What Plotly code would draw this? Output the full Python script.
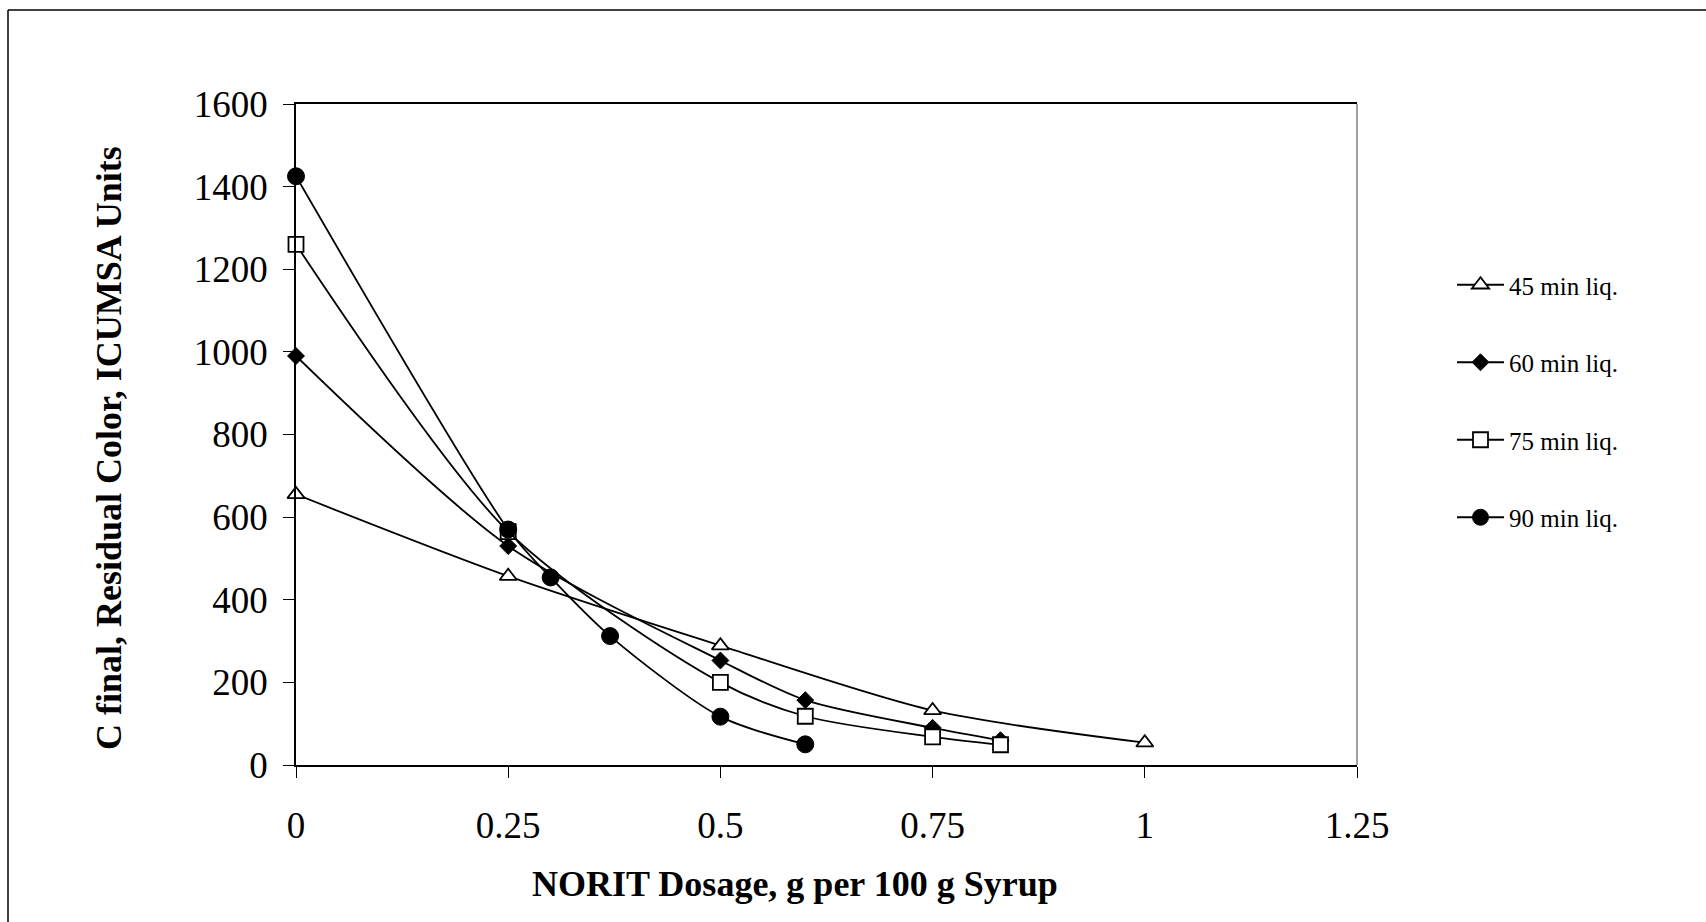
import plotly.graph_objects as go

# NORIT dosage (g per 100 g syrup) and residual colour (ICUMSA units) per liquor time
dose_45 = [0, 0.25, 0.5, 0.75, 1.0]
color_45 = [655, 457, 289, 132, 54]

dose_60 = [0, 0.25, 0.5, 0.6, 0.75, 0.83]
color_60 = [990, 530, 253, 157, 90, 60]

dose_75 = [0, 0.25, 0.5, 0.6, 0.75, 0.83]
color_75 = [1260, 565, 200, 118, 68, 49]

dose_90 = [0, 0.25, 0.3, 0.37, 0.5, 0.6]
color_90 = [1425, 570, 454, 312, 117, 50]

x_ticks = [0, 0.25, 0.5, 0.75, 1, 1.25]
x_tick_text = ["0", "0.25", "0.5", "0.75", "1", "1.25"]
y_ticks = [0, 200, 400, 600, 800, 1000, 1200, 1400, 1600]

series = [
    ("45 min liq.", dose_45, color_45, dict(symbol="triangle-up", size=15, color="white",
                                           line=dict(color="black", width=1.8))),
    ("60 min liq.", dose_60, color_60, dict(symbol="diamond", size=13, color="black",
                                           line=dict(color="black", width=1))),
    ("75 min liq.", dose_75, color_75, dict(symbol="square", size=15, color="white",
                                           line=dict(color="black", width=1.8))),
    ("90 min liq.", dose_90, color_90, dict(symbol="circle", size=17, color="black",
                                           line=dict(color="black", width=1))),
]

W, H = 1706, 922
L, R, T, B = 296, 349, 104, 157
pw, ph = W - L - R, H - T - B

FONT = "Liberation Serif, Times New Roman, serif"

fig = go.Figure()
for name, xs, ys, mk in series:
    fig.add_trace(go.Scatter(
        x=xs, y=ys, name=name, mode="lines+markers",
        line=dict(color="black", width=1.8, shape="spline", smoothing=0.8),
        marker=mk, legendgroup=name, cliponaxis=False,
    ))


def px_x(p):
    return (p - L) / pw


def px_y(p):
    return (H - B - p) / ph


shapes = [
    # outer chart frame (top and left edges)
    dict(type="line", xref="paper", yref="paper", x0=px_x(8), x1=px_x(W + 5),
         y0=px_y(10), y1=px_y(10), line=dict(color="black", width=1.5)),
    dict(type="line", xref="paper", yref="paper", x0=px_x(8), x1=px_x(8),
         y0=px_y(10), y1=px_y(H + 5), line=dict(color="black", width=1.5)),
    # right edge of plot area
    dict(type="line", xref="paper", yref="paper", x0=1, x1=1, y0=0, y1=1,
         line=dict(color="#808080", width=1.5)),
]

annotations = [
    dict(text="<b>NORIT Dosage, g per 100 g Syrup</b>", xref="paper", yref="paper",
         x=px_x(795), y=px_y(884), xanchor="center", yanchor="middle", showarrow=False,
         font=dict(family=FONT, size=36, color="black")),
    dict(text="<b>C final, Residual Color, ICUMSA Units</b>", xref="paper", yref="paper",
         x=px_x(109), y=px_y(448), xanchor="center", yanchor="middle", showarrow=False,
         textangle=-90, font=dict(family=FONT, size=36, color="black")),
]

fig.update_layout(
    width=W, height=H,
    margin=dict(l=L, r=R, t=T, b=B),
    paper_bgcolor="white", plot_bgcolor="white",
    font=dict(family=FONT, color="black"),
    showlegend=True,
    legend=dict(
        x=px_x(1452), y=px_y(262), xanchor="left", yanchor="top",
        font=dict(family=FONT, size=25, color="black"),
        tracegroupgap=42, bgcolor="rgba(0,0,0,0)", itemwidth=47,
    ),
    xaxis=dict(
        range=[0, 1.25], tickvals=x_ticks, ticktext=x_tick_text,
        showgrid=False, zeroline=False, showline=True, linecolor="black", linewidth=1.5,
        mirror=True, ticks="outside", ticklen=11, tickcolor="black", tickwidth=1,
        tickfont=dict(family=FONT, size=37, color="black"), ticklabelstandoff=16,
    ),
    yaxis=dict(
        range=[0, 1600], tickvals=y_ticks,
        showgrid=False, zeroline=False, showline=True, linecolor="black", linewidth=1.5,
        ticks="outside", ticklen=11, tickcolor="black", tickwidth=1,
        tickfont=dict(family=FONT, size=37, color="black"), ticklabelstandoff=8,
    ),
    shapes=shapes, annotations=annotations,
)

fig.write_html("out.html")
